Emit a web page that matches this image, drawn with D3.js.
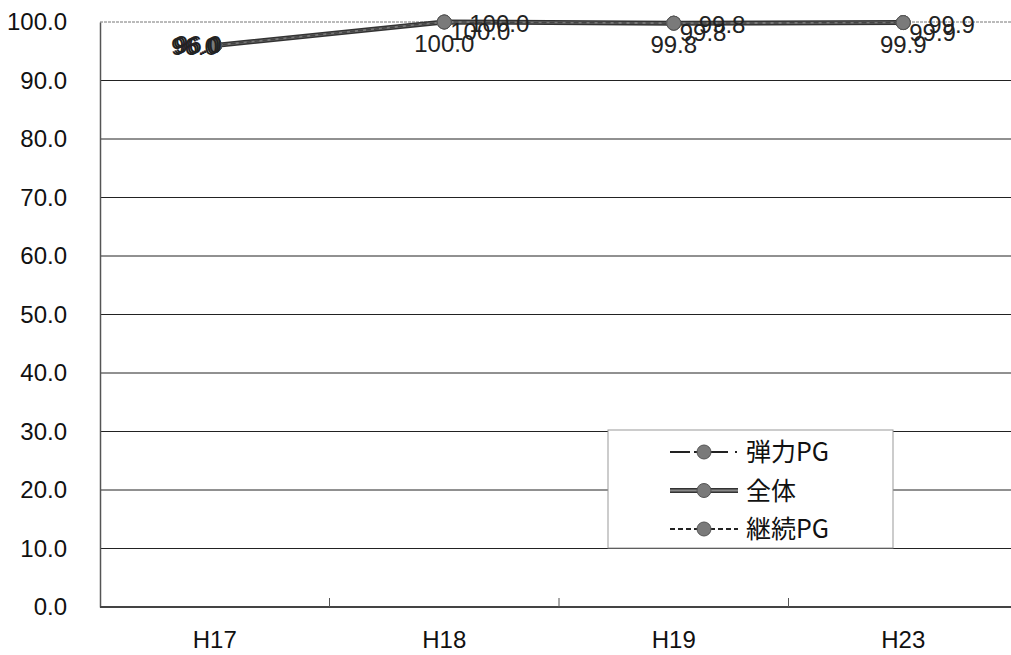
<!DOCTYPE html>
<html><head><meta charset="utf-8">
<script src="https://cdn.jsdelivr.net/npm/d3@7"></script>
<style>body{margin:0;background:#fff}svg text{font-family:"Liberation Sans",Arial,sans-serif}</style>
</head><body><svg id="c" width="1011" height="655"></svg>
<script>
const categories = ["H17","H18","H19","H23"];
const seriesNames = ["弾力PG","全体","継続PG"];
const danryoku = [96.0,100.0,99.8,99.9];
const zentai = [96.0,100.0,99.8,99.9];
const keizoku = [96.0,100.0,99.8,99.9];
const yTicks = [0,10,20,30,40,50,60,70,80,90,100];

const svg = d3.select("#c");
const x = d3.scaleBand().domain(categories).range([100,1018]);
const y = d3.scaleLinear().domain([0,100]).range([607,22]);

// gridlines
svg.append("g").selectAll("line").data(yTicks.filter(d=>d>0)).join("line")
  .attr("x1",100).attr("x2",1011).attr("y1",d=>y(d)).attr("y2",d=>y(d))
  .attr("stroke",d=>d===100?"#777":"#222").attr("stroke-width",1)
  .attr("stroke-dasharray",d=>d===100?"3,1":null);
// y axis
const ya = svg.append("g").attr("transform","translate(100,0)")
  .call(d3.axisLeft(y).tickValues(yTicks).tickSize(0).tickPadding(33).tickFormat(d3.format(".1f")));
ya.select(".domain").attr("stroke","#555").attr("stroke-width",1.5);
ya.selectAll("text").attr("font-size",24).attr("fill","#111");
// x axis
const xa = svg.append("g").attr("transform","translate(0,607)")
  .call(d3.axisBottom(x).tickSize(0).tickPadding(24));
xa.select(".domain").remove();
xa.selectAll("text").attr("font-size",24).attr("fill","#111");
svg.append("line").attr("x1",100).attr("x2",1011).attr("y1",607).attr("y2",607).attr("stroke","#444").attr("stroke-width",2);
svg.append("g").selectAll("line").data(categories.slice(1)).join("line")
  .attr("x1",d=>x(d)).attr("x2",d=>x(d)).attr("y1",598).attr("y2",607).attr("stroke","#555");

const cx = d=>x(d)+x.bandwidth()/2;
const series = [
  {name:seriesNames[0], vals:danryoku, dash:"20,4,34,7,2,100"},
  {name:seriesNames[1], vals:zentai, dash:null},
  {name:seriesNames[2], vals:keizoku, dash:"5,3"}
];
const line = d3.line().x((d,i)=>cx(categories[i])).y(d=>y(d));
series.forEach((s,k)=>{
  if(k===1){
    svg.append("path").attr("d",line(s.vals)).attr("fill","none").attr("stroke","#333").attr("stroke-width",5);
    svg.append("path").attr("d",line(s.vals)).attr("fill","none").attr("stroke","#777").attr("stroke-width",2);
  } else {
    svg.append("path").attr("d",line(s.vals)).attr("fill","none").attr("stroke","#444").attr("stroke-width",1.5).attr("stroke-dasharray",k===2?s.dash:"14,4");
  }
});
series.forEach(s=>{
  svg.append("g").selectAll("circle").data(s.vals).join("circle")
    .attr("cx",(d,i)=>cx(categories[i])).attr("cy",d=>y(d)).attr("r",7)
    .attr("fill","#7a7a7a").attr("stroke","#555").attr("stroke-width",1);
});
// labels
const offs = [
  {dx:25, dy:10, anchor:"start"},
  {dx:0, dy:30, anchor:"middle"},
  {dx:6, dy:18, anchor:"start"}
];
series.forEach((s,k)=>{
  svg.append("g").selectAll("text").data(s.vals).join("text")
    .attr("x",(d,i)=> i===0 ? cx(categories[i]) + 7 - k*2 : cx(categories[i]) + offs[k].dx)
    .attr("y",(d,i)=> i===0 ? y(d) + 9 + (k-1) : y(d) + offs[k].dy)
    .attr("text-anchor",(d,i)=> i===0 ? "end" : offs[k].anchor)
    .attr("font-size",24).attr("fill","#222")
    .text(d=>d3.format(".1f")(d));
});
// legend
const lg = svg.append("g");
lg.append("rect").attr("x",608).attr("y",430).attr("width",285).attr("height",118).attr("fill","#fff").attr("stroke","#999");
series.forEach((s,k)=>{
  const ly = 452 + k*38.5;
  if(k===1){
    lg.append("line").attr("x1",670).attr("x2",738).attr("y1",ly).attr("y2",ly).attr("stroke","#333").attr("stroke-width",5);
    lg.append("line").attr("x1",670).attr("x2",738).attr("y1",ly).attr("y2",ly).attr("stroke","#888").attr("stroke-width",2);
  } else {
    lg.append("line").attr("x1",670).attr("x2",738).attr("y1",ly).attr("y2",ly).attr("stroke","#222").attr("stroke-width",2).attr("stroke-dasharray",s.dash);
  }
  lg.append("circle").attr("cx",704).attr("cy",ly).attr("r",7).attr("fill","#7a7a7a").attr("stroke","#555");
  lg.append("text").attr("x",746).attr("y",ly+9).attr("font-size",25).attr("fill","#111")
    .style("font-family","'Noto Sans CJK JP',sans-serif").text(s.name);
});
</script></body></html>
